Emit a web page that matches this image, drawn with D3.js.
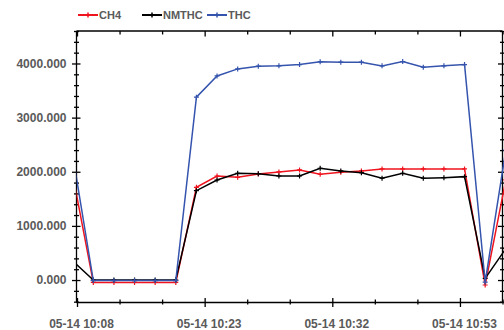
<!DOCTYPE html>
<html lang="en">
<head>
    <script src='https://d3js.org/d3.v7.min.js'></script>
    <title>CH4 / NMTHC / THC</title>
    <style>
      body { margin: 0; background: #fff; }
      text { font-family: "Liberation Sans", Arial, sans-serif; }
    </style>
</head>
<body>
  <script>
    var width = 504, height = 330;

    // data (one value per sample)
    var ch4   = [1946, -45, -45, -45, -45, -45, 1713, 1922, 1898, 1959, 1996, 2033, 1954, 1990, 2015, 2052, 2052, 2052, 2052, 2052, -92, 1850];
    var nmthc = [352, 0, 0, 0, 0, 0, 1651, 1848, 1972, 1965, 1922, 1922, 2065, 2015, 1983, 1880, 1972, 1880, 1891, 1910, 31, 580];
    var thc   = [2313, -10, -10, -10, -10, -10, 3377, 3770, 3900, 3950, 3956, 3980, 4030, 4024, 4024, 3956, 4035, 3932, 3956, 3980, -40, 2400];
    var xLabels = ['05-14 10:08', '05-14 10:23', '05-14 10:32', '05-14 10:53'];
    var seriesNames = ['CH4', 'NMTHC', 'THC'];
    var colors = ['#f0141e', '#000000', '#3554ad'];

    // plot frame ("top" is reserved on window, so use other names)
    var pLeft = 76.5, pRight = 502.5, pTop = 31, pBottom = 302.5;

    var svg = d3.select('body')
      .append('svg')
      .attr('width', width)
      .attr('height', height);

    // x: sample index, the axis covers a bit less than the sample range
    var x = d3.scaleLinear().domain([0.21, 20.84]).range([77, pRight]);
    var y = d3.scaleLinear().domain([-415, 4600]).range([pBottom, pTop]);

    var xd = x.domain();
    var xTicks = d3.range(11).map(function(j) { return xd[0] + (xd[1] - xd[0]) * j / 10; });
    var yTicks = d3.range(-400, 4601, 200);

    // clip series at left axis
    svg.append('clipPath').attr('id', 'clip')
      .append('rect').attr('x', pLeft).attr('y', 0).attr('width', width).attr('height', height);

    // left axis
    var gy = svg.append('g')
      .attr('transform', 'translate(' + pLeft + ',0)')
      .call(d3.axisLeft(y).tickValues(yTicks).tickSize(0).tickPadding(10)
        .tickFormat(function(d) { return d % 1000 === 0 ? d3.format('.3f')(d) : ''; }));
    gy.select('.domain').attr('d', 'M0,' + pTop + 'V' + pBottom).attr('stroke', '#000').attr('stroke-width', 1.3);
    gy.selectAll('.tick line')
      .attr('x1', function(d) { return d % 1000 === 0 ? -4.5 : -2.5; })
      .attr('x2', function(d) { return d % 1000 === 0 ? 4 : 2.5; })
      .attr('stroke', '#000').attr('stroke-width', 1.3);
    gy.selectAll('.tick text').attr('fill', '#5a5a5a').attr('font-weight', 'bold')
      .attr('font-size', 12);

    // right axis (mirror, no labels)
    var gr = svg.append('g')
      .attr('transform', 'translate(' + pRight + ',0)')
      .call(d3.axisRight(y).tickValues(yTicks).tickSize(0).tickFormat(''));
    gr.select('.domain').attr('d', 'M0,' + pTop + 'V' + pBottom).attr('stroke', '#000').attr('stroke-width', 1.3);
    gr.selectAll('.tick line')
      .attr('x1', function(d) { return d % 1000 === 0 ? -4.5 : -2.5; })
      .attr('x2', 4)
      .attr('stroke', '#000').attr('stroke-width', 1.3);

    // bottom axis
    var gx = svg.append('g')
      .attr('transform', 'translate(0,' + pBottom + ')')
      .call(d3.axisBottom(x).tickValues(xTicks).tickSize(0).tickPadding(17)
        .tickFormat(function(d, i) { return i % 3 === 0 ? xLabels[i / 3] : ''; }));
    gx.select('.domain').attr('d', 'M' + pLeft + ',0H' + pRight).attr('stroke', '#000').attr('stroke-width', 1.3);
    gx.selectAll('.tick line')
      .attr('y1', function(d, i) { return i % 3 === 0 ? -4.5 : -3; })
      .attr('y2', function(d, i) { return i % 3 === 0 ? 4.5 : 2; })
      .attr('stroke', '#000').attr('stroke-width', 1.3);
    gx.selectAll('.tick text').attr('fill', '#5a5a5a').attr('font-weight', 'bold')
      .attr('font-size', 12).attr('dx', 4);

    // top axis (mirror, ticks inside)
    var gt = svg.append('g')
      .attr('transform', 'translate(0,' + pTop + ')')
      .call(d3.axisTop(x).tickValues(xTicks).tickSize(0).tickFormat(''));
    gt.select('.domain').attr('d', 'M' + pLeft + ',0H' + pRight).attr('stroke', '#000').attr('stroke-width', 1.3);
    gt.selectAll('.tick line')
      .attr('y1', 0)
      .attr('y2', function(d, i) { return i % 3 === 0 ? 5.5 : 3.5; })
      .attr('stroke', '#000').attr('stroke-width', 1.3);

    // series
    var series = [ch4, nmthc, thc];
    var line = d3.line()
      .x(function(d, i) { return x(i); })
      .y(function(d) { return y(d); });

    var plot = svg.append('g').attr('clip-path', 'url(#clip)');
    series.forEach(function(s, k) {
      plot.append('path')
        .datum(s)
        .attr('d', line)
        .attr('fill', 'none')
        .attr('stroke', colors[k])
        .attr('stroke-width', 1.5);
      plot.selectAll('.m' + k)
        .data(s)
        .join('path')
        .attr('class', 'm' + k)
        .attr('d', function(d, i) {
          var cx = x(i), cy = y(d);
          return 'M' + (cx - 2.5) + ',' + cy + 'H' + (cx + 2.5) + 'M' + cx + ',' + (cy - 2.5) + 'V' + (cy + 2.5);
        })
        .attr('stroke', colors[k])
        .attr('stroke-width', 1.2);
    });

    // legend
    var legendX = [78, 142, 207];
    var legend = svg.append('g');
    seriesNames.forEach(function(name, k) {
      var lx = legendX[k];
      legend.append('line')
        .attr('x1', lx).attr('x2', lx + 20).attr('y1', 15).attr('y2', 15)
        .attr('stroke', colors[k]).attr('stroke-width', 2);
      legend.append('path')
        .attr('d', 'M' + (lx + 10) + ',12.5V17.5')
        .attr('stroke', colors[k]).attr('stroke-width', 1.5);
      legend.append('text')
        .attr('x', lx + 21).attr('y', 19)
        .attr('font-size', 11).attr('font-weight', 'bold').attr('fill', '#5a5a5a')
        .text(name);
    });
  </script>
</body>
</html>
